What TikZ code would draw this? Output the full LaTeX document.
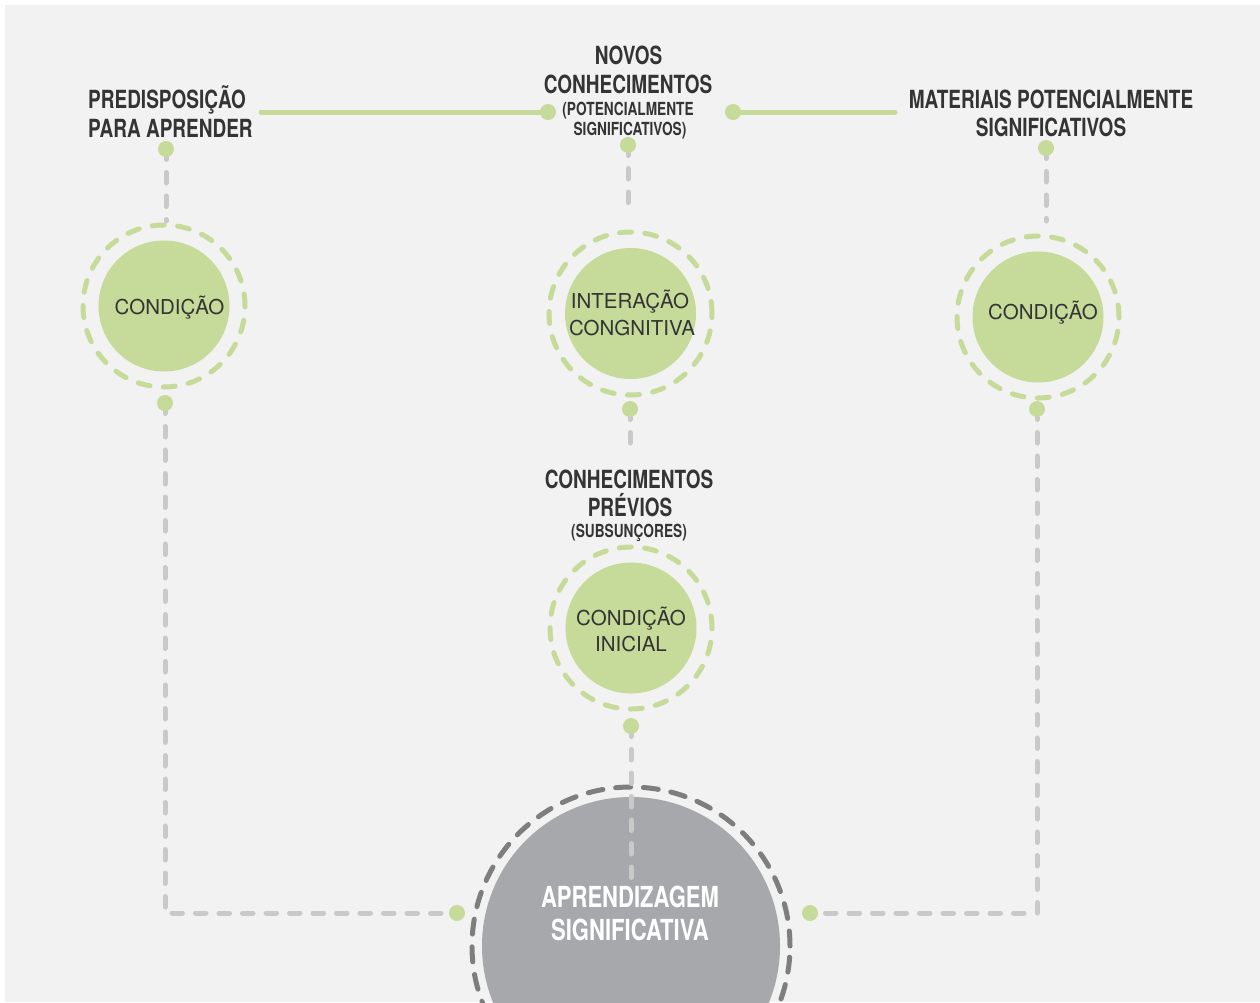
\documentclass[tikz,border=0pt]{standalone}
\usepackage{fontspec}
\setmainfont{TeX Gyre Heros}
\newfontfamily\condfont[FakeStretch=0.76]{TeX Gyre Heros}
\definecolor{bg}{HTML}{F2F2F2}
\definecolor{grn}{HTML}{C6DA9A}
\definecolor{lgray}{HTML}{C9C9C9}
\definecolor{dgray}{HTML}{7E7E7E}
\definecolor{cgray}{HTML}{A7A8AB}
\definecolor{txt}{HTML}{343434}
\tikzset{
  gdot/.style={circle, fill=grn, minimum size=16pt, inner sep=0pt, outer sep=0pt},
  gcirc/.style={circle, fill=grn, minimum size=131pt, inner sep=0pt},
  bigcirc/.style={circle, fill=cgray, minimum size=298pt, inner sep=0pt},
  gring/.style={draw=grn, line width=5pt, line cap=round, dash pattern=on 12pt off 13.4pt},
  bring/.style={draw=dgray, line width=5pt, line cap=round, dash pattern=on 15pt off 12.8pt},
  gline/.style={draw=lgray, line width=5pt, line cap=round, dash pattern=on 10.5pt off 13pt},
  greenline/.style={draw=grn, line width=5pt, line cap=round},
  lbl/.style={inner sep=0pt, text=txt, font=\condfont\bfseries\fontsize{25pt}{29pt}\selectfont},
  slbl/.style={inner sep=0pt, text=txt, font=\condfont\bfseries\fontsize{18pt}{20pt}\selectfont},
  ctxt/.style={inner sep=0pt, text=txt, anchor=base, font=\fontsize{20.5pt}{26pt}\selectfont},
  btxt/.style={inner sep=0pt, text=white, anchor=base, font=\condfont\bfseries\fontsize{29pt}{33pt}\selectfont}
}
\begin{document}
\begin{tikzpicture}[x=1pt,y=-1pt]
\useasboundingbox (0,0) rectangle (1260,1002);
\fill[white] (0,0) rectangle (1260,1002);
\fill[bg] (5,5) rectangle (1260,1002);

% big circle
\node[bigcirc] (big) at (631,946) {};
\draw[bring] (big.center) circle[radius=159pt];
\node[btxt] (bt1) at (630,907) {APRENDIZAGEM};
\node[btxt] (bt2) at (630,940) {SIGNIFICATIVA};

% green circles
\node[gcirc] (cL) at (164,306) {};
\draw[gring] (cL.center) circle[radius=81pt];
\node[gcirc] (cM) at (630.5,313.5) {};
\draw[gring] (cM.center) circle[radius=81.5pt];
\node[gcirc] (cR) at (1038,317) {};
\draw[gring] (cR.center) circle[radius=81pt];
\node[gcirc] (cB) at (631,628) {};
\draw[gring] (cB.center) circle[radius=81pt];

% circle texts
\node[ctxt] (tL) at (169.5,314) {CONDIÇÃO};
\node[ctxt] (tM1) at (630,308) {INTERAÇÃO};
\node[ctxt] (tM2) at (632,335) {CONGNITIVA};
\node[ctxt] (tR) at (1043,319) {CONDIÇÃO};
\node[ctxt] (tB1) at (631,625) {CONDIÇÃO};
\node[ctxt] (tB2) at (631,651) {INICIAL};

% labels
\node[lbl, anchor=base west] (l1) at (88,108) {PREDISPOSIÇÃO};
\node[lbl, anchor=base west] (l2) at (88,137) {PARA APRENDER};
\node[lbl, anchor=base] (m1) at (628.5,64) {NOVOS};
\node[lbl, anchor=base] (m2) at (628,93) {CONHECIMENTOS};
\node[slbl, anchor=base] (m3) at (628,115) {(POTENCIALMENTE};
\node[slbl, anchor=base] (m4) at (630,135) {SIGNIFICATIVOS)};
\node[lbl, anchor=base] (r1) at (1051,108) {MATERIAIS POTENCIALMENTE};
\node[lbl, anchor=base] (r2) at (1051,136) {SIGNIFICATIVOS};
\node[lbl, anchor=base] (p1) at (629,488) {CONHECIMENTOS};
\node[lbl, anchor=base] (p2) at (630,516) {PRÉVIOS};
\node[slbl, anchor=base] (p3) at (629,537) {(SUBSUNÇORES)};

% dots (positions)
\coordinate (dLT) at (166,149);
\coordinate (dLB) at (165,403);
\coordinate (dNL) at (548,112);
\coordinate (dNR) at (733,112);
\coordinate (dMT) at (628,145);
\coordinate (dMB) at (630,409);
\coordinate (dRT) at (1046,148);
\coordinate (dRB) at (1037,409);
\coordinate (dBT) at (631,726);
\coordinate (dBL) at (457,913);
\coordinate (dBR) at (810,913);

% connector free ends
\coordinate (eLT) at (166,221);
\coordinate (eMT) at (628,212);
\coordinate (eRT) at (1046,221);
\coordinate (eMB) at (630,455);
\coordinate (eBT) at (631,878);
\coordinate (gL) at (261,112);
\coordinate (gR) at (895,112);

% connectors
\draw[greenline] (gL) -- (dNL);
\draw[greenline] (dNR) -- (gR);
\draw[gline] (dLT) -- (eLT);
\draw[gline] (dMT) -- (eMT);
\draw[gline] (dRT) -- (eRT);
\draw[gline] (dMB) -- (eMB);
\draw[gline] (dBT) -- (eBT);
\draw[gline] (dLB) |- (dBL);
\draw[gline] (dRB) |- (dBR);

% dots
\foreach \n in {LT,LB,NL,NR,MT,MB,RT,RB,BT,BL,BR}
  \node[gdot] (n\n) at (d\n) {};
\end{tikzpicture}
\end{document}
